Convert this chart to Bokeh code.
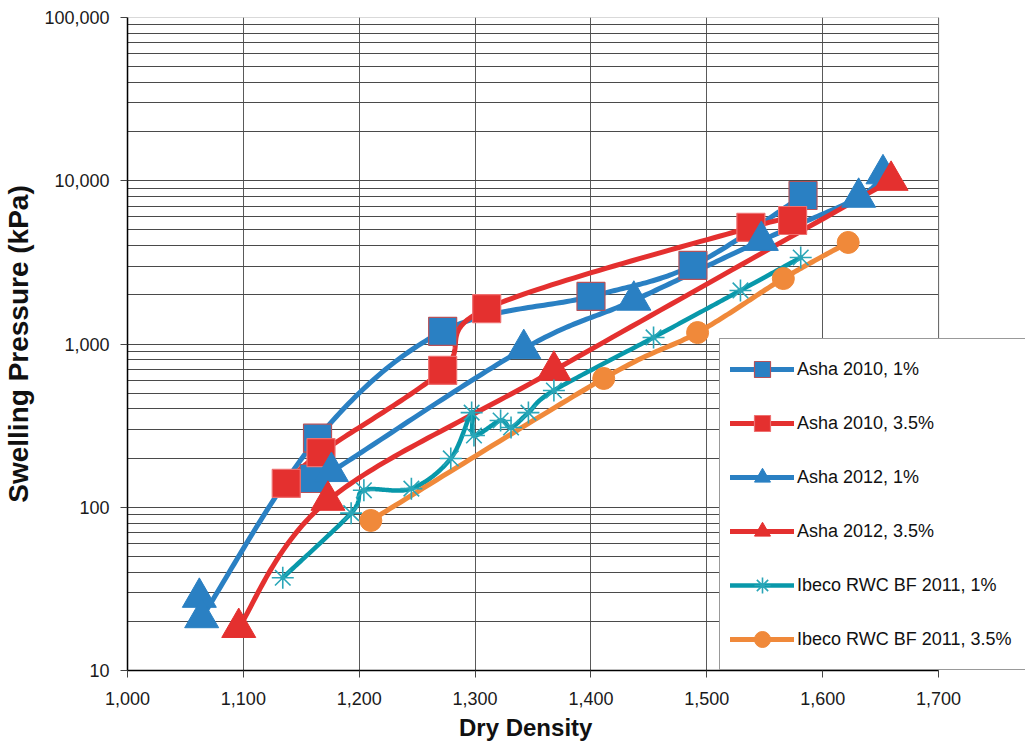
import numpy as np
from bokeh.plotting import figure
from bokeh.layouts import column
from bokeh.models import (FixedTicker, NumeralTickFormatter, Legend, LegendItem, BoxAnnotation, Div)
from bokeh.embed import file_html
from bokeh.resources import INLINE

# ---------------- data ----------------
# Asha 2010, 1%
a10_1_line_x = [1064, 1164, 1272, 1400, 1488, 1583]
a10_1_line_y = [21, 265, 1195, 1955, 3030, 8120]
a10_1_mark_x = [1161, 1164, 1272, 1400, 1488, 1583]
a10_1_mark_y = [150, 265, 1195, 1955, 3030, 8120]

# Asha 2010, 3.5%
a10_35_x = [1137, 1167, 1272, 1310, 1538, 1574]
a10_35_y = [140, 216, 689, 1648, 5180, 5710]

# Asha 2012, 1%
a12_1_line_x = [1155, 1176, 1342, 1437, 1547, 1631, 1652]
a12_1_line_y = [135, 165, 935, 1850, 4300, 7900, 11000]
a12_1_mark_x = [1062, 1064, 1176, 1342, 1437, 1547, 1631, 1652]
a12_1_mark_y = [28, 21, 165, 935, 1850, 4300, 7900, 11000]

# Asha 2012, 3.5%
a12_35_x = [1096, 1173, 1368, 1659]
a12_35_y = [18.3, 110, 689, 10035]

# Ibeco RWC BF 2011, 1%
ib_1_x = [1134, 1193, 1204, 1245, 1279, 1297, 1299, 1322, 1331, 1346, 1368, 1454, 1529, 1581]
ib_1_y = [37, 92, 127, 130, 199, 380, 275, 340, 308, 380, 519, 1097, 2128, 3388]

# Ibeco RWC BF 2011, 3.5%
ib_35_x = [1210, 1411, 1492, 1566, 1622]
ib_35_y = [83, 615, 1175, 2518, 4188]

labels = ["Asha 2010, 1%", "Asha 2010, 3.5%", "Asha 2012, 1%", "Asha 2012, 3.5%",
          "Ibeco RWC BF 2011, 1%", "Ibeco RWC BF 2011, 3.5%"]

x_ticks = [1000, 1100, 1200, 1300, 1400, 1500, 1600, 1700]
y_ticks = [10, 100, 1000, 10000, 100000]
X_MIN, X_MAX = 1000, 1700
Y_MIN, Y_MAX = 10, 100000

BLUE = "#2A80C3"
RED = "#E4302F"
TEAL = "#0898AA"
ORANGE = "#F0893A"


def smooth(xs, ys, n=40):
    """Excel-like smoothed line (cubic Bezier, 1/6 tangents) in (x, log y) space."""
    px = np.asarray(xs, float)
    py = np.log10(np.asarray(ys, float))
    m = len(px)
    if m < 3:
        return list(px), list(10 ** py)
    ox, oy = [], []
    for i in range(m - 1):
        i0 = max(i - 1, 0)
        i3 = min(i + 2, m - 1)
        p0 = np.array([px[i], py[i]])
        p3 = np.array([px[i + 1], py[i + 1]])
        c1 = p0 + (np.array([px[i + 1], py[i + 1]]) - np.array([px[i0], py[i0]])) / 6.0
        c2 = p3 - (np.array([px[i3], py[i3]]) - np.array([px[i], py[i]])) / 6.0
        t = np.linspace(0, 1, n)[:, None]
        pts = ((1 - t) ** 3) * p0 + 3 * ((1 - t) ** 2) * t * c1 + 3 * (1 - t) * t ** 2 * c2 + t ** 3 * p3
        if i > 0:
            pts = pts[1:]
        ox.extend(pts[:, 0])
        oy.extend(10 ** pts[:, 1])
    return ox, oy


# frame: 812 px for 700 units; extra 87 px on the right leaves room for the legend
X_VIEW_MAX = X_MAX + 87 * (X_MAX - X_MIN) / 812.0

p = figure(width=1025, height=712, x_range=(X_MIN, X_VIEW_MAX), y_range=(Y_MIN, Y_MAX),
           y_axis_type="log", output_backend="svg", toolbar_location=None,
           min_border_left=126, min_border_right=0, min_border_top=17, min_border_bottom=42)
p.background_fill_color = "white"
p.border_fill_color = "white"
p.outline_line_color = None

# axes
p.xaxis.ticker = FixedTicker(ticks=x_ticks, minor_ticks=[])
p.xaxis.bounds = (X_MIN, X_MAX)
minor = [m * d for d in [10, 100, 1000, 10000] for m in range(2, 10)]
p.yaxis.ticker = FixedTicker(ticks=y_ticks, minor_ticks=minor)
p.xaxis.formatter = NumeralTickFormatter(format="0,0")
p.yaxis.formatter = NumeralTickFormatter(format="0,0")
for ax in (p.xaxis, p.yaxis):
    ax.axis_line_color = "black"
    ax.axis_line_width = 1.5
    ax.major_tick_line_color = "#444444"
    ax.major_tick_out = 7
    ax.major_tick_in = 0
    ax.minor_tick_out = 0
    ax.minor_tick_in = 0
    ax.major_label_text_font = "Liberation Sans"
    ax.major_label_text_font_size = "18px"
    ax.major_label_text_color = "#1a1a1a"
    ax.axis_label_text_font = "Liberation Sans"
    ax.axis_label_text_font_style = "bold"
    ax.axis_label_text_color = "#111111"
p.yaxis.axis_label = "Swelling Pressure (kPa)"
p.yaxis.axis_label_text_font_size = "28px"
p.xaxis.major_label_standoff = 14
p.yaxis.major_label_standoff = 11
p.yaxis.axis_label_standoff = 7

# grid
p.xgrid.grid_line_color = "#5a5a5a"
p.xgrid.grid_line_width = 1
p.ygrid.grid_line_color = "#4a4a4a"
p.ygrid.grid_line_width = 1
p.ygrid.minor_grid_line_color = "#4a4a4a"
p.ygrid.minor_grid_line_width = 1

# blank area right of the plot frame, and the frame border
p.add_layout(BoxAnnotation(left=X_MAX, fill_color="white", fill_alpha=1,
                           line_color=None, level="glyph"))
p.add_layout(BoxAnnotation(left=X_MIN, right=X_MAX, bottom=Y_MIN, top=Y_MAX,
                           fill_alpha=0, line_color="black", line_width=1.2))

# ---------------- series ----------------
lx, ly = smooth(a10_1_line_x, a10_1_line_y)
r_l1 = p.line(lx, ly, line_color=BLUE, line_width=5, line_cap="round", line_join="round")
lx, ly = smooth(a10_35_x, a10_35_y)
r_l2 = p.line(lx, ly, line_color=RED, line_width=5, line_cap="round", line_join="round")
lx, ly = smooth(a12_1_line_x, a12_1_line_y)
r_l3 = p.line(lx, ly, line_color=BLUE, line_width=5, line_cap="round", line_join="round")
lx, ly = smooth(a12_35_x, a12_35_y)
r_l4 = p.line(lx, ly, line_color=RED, line_width=5, line_cap="round", line_join="round")
lx, ly = smooth(ib_1_x, ib_1_y)
r_l5 = p.line(lx, ly, line_color=TEAL, line_width=4.5, line_cap="round", line_join="round")
lx, ly = smooth(ib_35_x, ib_35_y)
r_l6 = p.line(lx, ly, line_color=ORANGE, line_width=5, line_cap="round", line_join="round")

r_m1 = p.scatter(a10_1_mark_x, a10_1_mark_y, marker="square", size=28,
                 fill_color=BLUE, line_color="#B5525A", line_width=1.2)
r_m2 = p.scatter(a10_35_x, a10_35_y, marker="square", size=28,
                 fill_color=RED, line_color="#EE7070", line_width=1.2)
r_m3 = p.scatter(a12_1_mark_x, a12_1_mark_y, marker="triangle", size=34,
                 fill_color=BLUE, line_color=BLUE, line_width=1)
r_m4 = p.scatter(a12_35_x, a12_35_y, marker="triangle", size=34,
                 fill_color=RED, line_color=RED, line_width=1)
r_m5 = p.scatter(ib_1_x, ib_1_y, marker="asterisk", size=22,
                 line_color="#2AA6B8", line_width=1.6)
r_m6 = p.scatter(ib_35_x, ib_35_y, marker="circle", size=22,
                 fill_color=ORANGE, line_color=ORANGE, line_width=1)

renders = [(r_l1, r_m1), (r_l2, r_m2), (r_l3, r_m3), (r_l4, r_m4), (r_l5, r_m5), (r_l6, r_m6)]
items = [LegendItem(label=lab, renderers=[rl, rm]) for lab, (rl, rm) in zip(labels, renders)]

legend = Legend(items=items, location=(592, 0))
legend.padding = 10
legend.margin = 0
legend.spacing = 14
legend.glyph_height = 40
legend.label_height = 40
legend.glyph_width = 64
legend.label_width = 260
legend.label_standoff = 3
legend.label_text_font = "Liberation Sans"
legend.label_text_font_size = "18px"
legend.label_text_color = "#111111"
legend.border_line_color = "#333333"
legend.border_line_width = 1
legend.background_fill_color = "white"
legend.background_fill_alpha = 1
p.add_layout(legend, "center")

# x-axis title, centred under the 1000-1700 part of the frame
xlabel = Div(text="Dry Density", width=300, height=32, margin=(0, 0, 0, 459),
             styles={"font-family": "Liberation Sans", "font-size": "24px",
                     "font-weight": "bold", "color": "#111111",
                     "line-height": "32px", "white-space": "nowrap"})

layout = column(p, xlabel, spacing=0)
open("out.html", "w").write(file_html(layout, INLINE))
